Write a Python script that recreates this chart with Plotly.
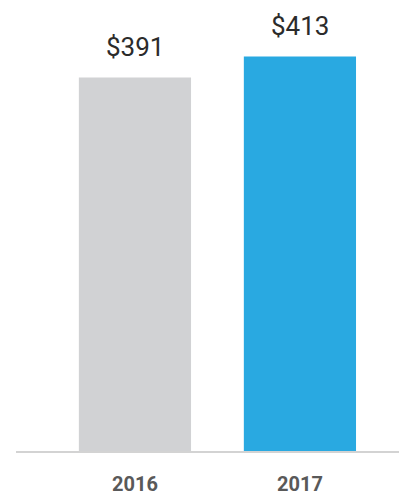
import plotly.graph_objects as go

years = ["2016", "2017"]
values = [391, 413]
labels = ["$391", "$413"]
colors = ["#d1d2d4", "#29a9e1"]

fig = go.Figure()
fig.add_trace(go.Bar(
    x=years, y=values, marker=dict(color=colors, line=dict(width=0)),
    width=0.68, hoverinfo="skip",
))
for i, (v, t) in enumerate(zip(values, labels)):
    fig.add_annotation(x=i, y=v, text=t, showarrow=False, yanchor="bottom",
                       yshift=15, borderpad=0,
                       font=dict(family="Roboto", size=26, color="#2b2b2b"))

fig.update_layout(
    width=399, height=488,
    margin=dict(l=8, r=0, t=0, b=41),
    paper_bgcolor="white", plot_bgcolor="white",
    showlegend=False,
    xaxis=dict(type="category", range=[-0.721, 1.649], showline=True, linecolor="#d3d3d3",
               linewidth=2, showgrid=False, ticks="", ticklabelstandoff=14,
               tickfont=dict(family="Roboto", size=20, color="#595959", weight="bold")),
    yaxis=dict(range=[0, 463.8], visible=False, showgrid=False, zeroline=False),
)
fig.write_html("out.html")
